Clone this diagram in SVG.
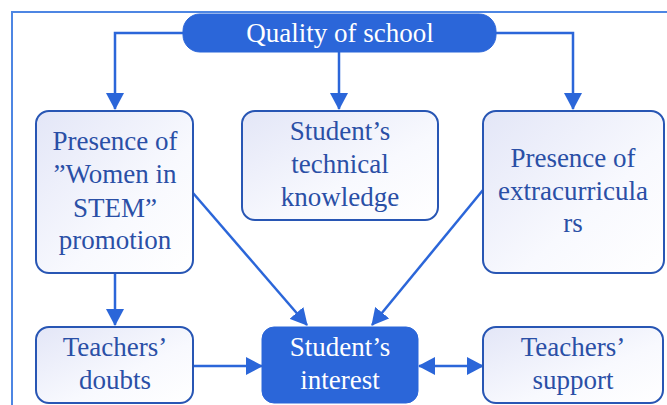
<svg xmlns="http://www.w3.org/2000/svg" width="667" height="405" viewBox="0 0 667 405">
  <defs>
    <linearGradient id="boxFill" x1="0" y1="0" x2="1" y2="1">
      <stop offset="0" stop-color="#e3e6f7"/>
      <stop offset="0.6" stop-color="#f8f9fe"/>
      <stop offset="1" stop-color="#ffffff"/>
    </linearGradient>
    <marker id="arrow" viewBox="0 0 17 18" refX="16" refY="9" markerWidth="17" markerHeight="18" markerUnits="userSpaceOnUse" orient="auto-start-reverse">
      <path d="M0,0 L17,9 L0,18 z" fill="#2b66d9"/>
    </marker>
    <style>
      .frame { fill: none; stroke: #4d86e3; stroke-width: 2; }
      .box { fill: url(#boxFill); stroke: #2856b4; stroke-width: 2; }
      .hub { fill: #2b66d9; stroke: #2b66d9; stroke-width: 1; }
      .label { font-size: 27px; fill: #2a4fa6; text-anchor: middle; }
      .hub-label { font-size: 27px; fill: #ffffff; text-anchor: middle; }
      .link { fill: none; stroke: #2b66d9; stroke-width: 2.5; }
    </style>
  </defs>

  <rect width="667" height="405" fill="#ffffff"/>
  <rect class="frame" x="12" y="12" width="700" height="450"/>

  <g id="connectors">
    <path class="link" d="M184,33 H115 V109" marker-end="url(#arrow)"/>
    <path class="link" d="M339,52 V109" marker-end="url(#arrow)"/>
    <path class="link" d="M495,33 H573 V109" marker-end="url(#arrow)"/>
    <path class="link" d="M115,273 V325" marker-end="url(#arrow)"/>
    <path class="link" d="M193,193 L307,325" marker-end="url(#arrow)"/>
    <path class="link" d="M483,190 L372,325" marker-end="url(#arrow)"/>
    <path class="link" d="M193,366 H262" marker-end="url(#arrow)"/>
    <path class="link" d="M419,366 H483" marker-start="url(#arrow)" marker-end="url(#arrow)"/>
  </g>

  <g font-family="'Liberation Serif', 'DejaVu Serif', serif">
    <g id="quality-of-school">
      <rect class="hub" x="183" y="14" width="313" height="38" rx="17"/>
      <text class="hub-label" x="340" y="42">Quality of school</text>
    </g>

    <g id="women-in-stem">
      <rect class="box" x="36" y="111" width="157" height="162" rx="13"/>
      <text class="label" x="115" y="150">Presence of</text>
      <text class="label" x="115" y="183">”Women in</text>
      <text class="label" x="115" y="217">STEM”</text>
      <text class="label" x="115" y="249">promotion</text>
    </g>

    <g id="technical-knowledge">
      <rect class="box" x="242" y="111" width="196" height="109" rx="13"/>
      <text class="label" x="340" y="140">Student’s</text>
      <text class="label" x="340" y="173">technical</text>
      <text class="label" x="340" y="206">knowledge</text>
    </g>

    <g id="extracurriculars">
      <rect class="box" x="483" y="111" width="181" height="162" rx="13"/>
      <text class="label" x="573" y="167">Presence of</text>
      <text class="label" x="573" y="200">extracurricula</text>
      <text class="label" x="573" y="232">rs</text>
    </g>

    <g id="teachers-doubts">
      <rect class="box" x="36" y="327" width="157" height="76" rx="13"/>
      <text class="label" x="115" y="356">Teachers’</text>
      <text class="label" x="115" y="389">doubts</text>
    </g>

    <g id="student-interest">
      <rect class="hub" x="262" y="327" width="156" height="76" rx="12"/>
      <text class="hub-label" x="340" y="356">Student’s</text>
      <text class="hub-label" x="340" y="389">interest</text>
    </g>

    <g id="teachers-support">
      <rect class="box" x="483" y="327" width="180" height="76" rx="13"/>
      <text class="label" x="573" y="356">Teachers’</text>
      <text class="label" x="573" y="389">support</text>
    </g>
  </g>
</svg>
